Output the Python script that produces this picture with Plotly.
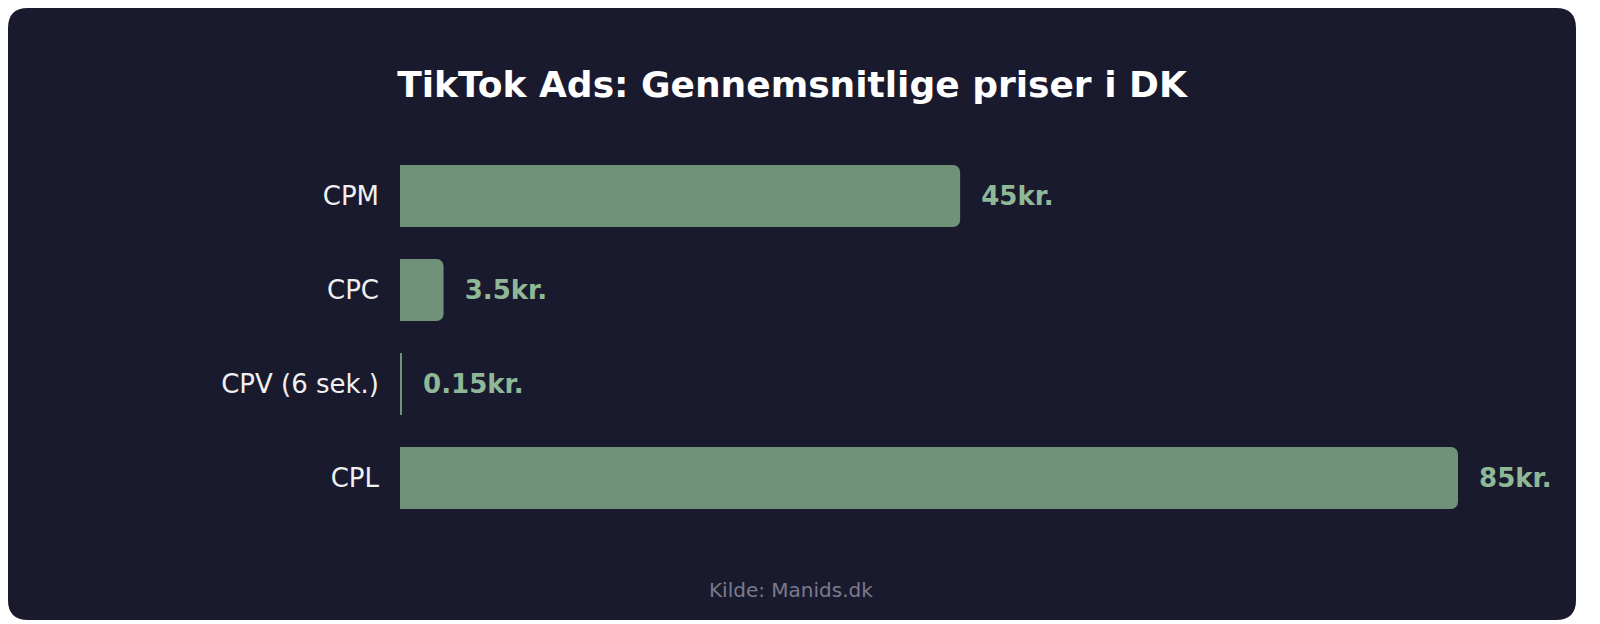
import plotly.graph_objects as go

categories = ["CPM", "CPC", "CPV (6 sek.)", "CPL"]
values = [45, 3.5, 0.15, 85]
labels = ["45kr.", "3.5kr.", "0.15kr.", "85kr."]

W, H = 1568, 612
L, R, T, B = 392, 100, 141, 95
PW, PH = W - L - R, H - T - B


def px(x):
    return (x - L) / PW


def py(y):
    return 1 - (y - T) / PH


# rounded background card
r = 20
bg_path = (
    f"M {px(r)},{py(0)} L {px(W - r)},{py(0)} Q {px(W)},{py(0)} {px(W)},{py(r)} "
    f"L {px(W)},{py(H - r)} Q {px(W)},{py(H)} {px(W - r)},{py(H)} "
    f"L {px(r)},{py(H)} Q {px(0)},{py(H)} {px(0)},{py(H - r)} "
    f"L {px(0)},{py(r)} Q {px(0)},{py(0)} {px(r)},{py(0)} Z"
)

fig = go.Figure(
    go.Bar(
        x=values,
        y=categories,
        orientation="h",
        text=["  " + t for t in labels],
        textposition="outside",
        cliponaxis=False,
        textfont=dict(color="#8fb996", size=26, family="DejaVu Sans", weight="bold"),
        marker=dict(color="#6f9278", cornerradius=7, line=dict(width=0)),
        hoverinfo="skip",
    )
)

fig.update_layout(
    width=W,
    height=H,
    paper_bgcolor="white",
    plot_bgcolor="rgba(0,0,0,0)",
    margin=dict(l=L, r=R, t=T, b=B),
    bargap=0.34,
    showlegend=False,
    font=dict(family="DejaVu Sans", color="white"),
    title=dict(
        text="<b>TikTok Ads: Gennemsnitlige priser i DK</b>",
        x=0.5,
        xanchor="center",
        y=1 - 76 / H,
        yanchor="middle",
        font=dict(size=36, color="white"),
    ),
    shapes=[
        dict(type="path", path=bg_path, xref="paper", yref="paper",
             fillcolor="#1a1a2e", line=dict(width=0), layer="below")
    ],
    annotations=[
        dict(
            text="Kilde: Manids.dk",
            xref="paper",
            yref="paper",
            x=px(783),
            y=py(582),
            xanchor="center",
            yanchor="middle",
            showarrow=False,
            font=dict(size=20, color="#7a7a8c"),
        )
    ],
)

fig.update_xaxes(range=[0, 85 * PW / 1058], visible=False, showgrid=False, zeroline=False)
fig.update_yaxes(
    autorange="reversed",
    showgrid=False,
    zeroline=False,
    ticks="",
    ticklabelstandoff=20,
    tickfont=dict(size=26, color="#f0f0f0"),
)

fig.write_html("out.html")
